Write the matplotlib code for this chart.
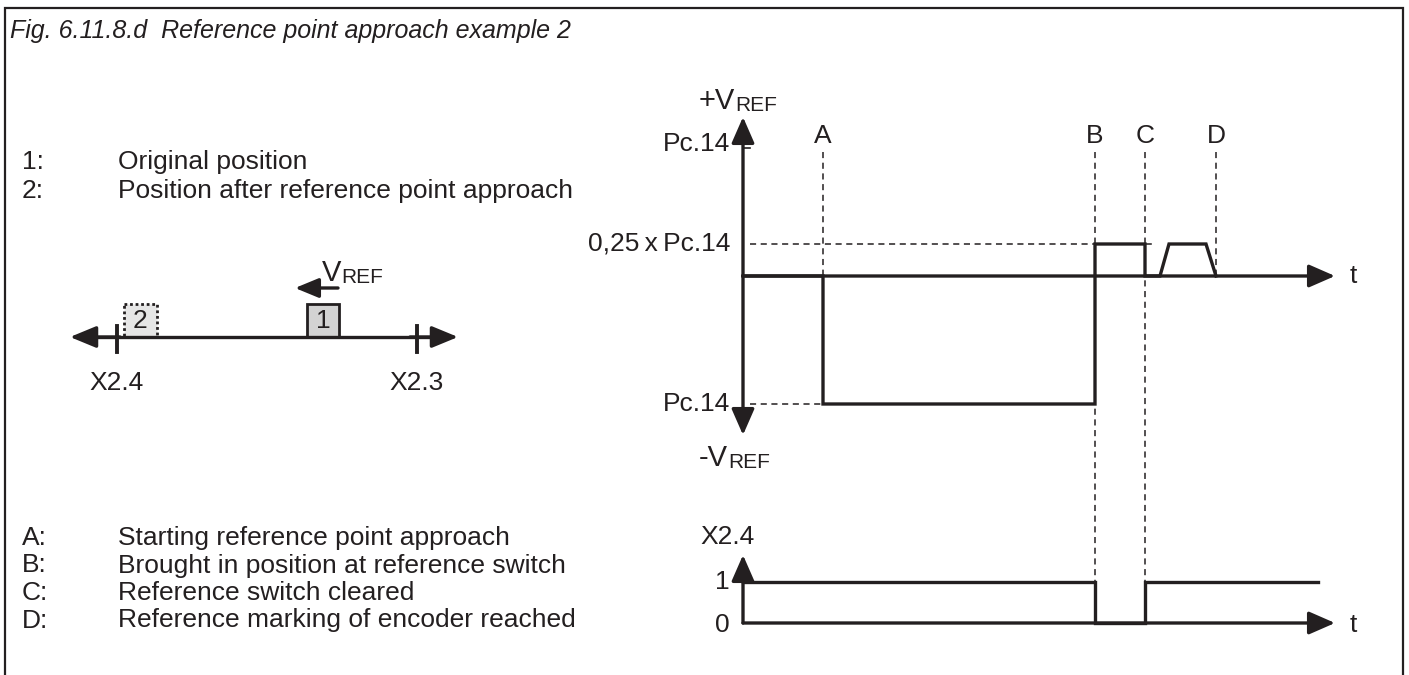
import matplotlib
matplotlib.use("Agg")
import matplotlib.pyplot as plt
from matplotlib.patches import Rectangle

INK = "#231f20"
FONT = ["Liberation Sans", "DejaVu Sans"]
plt.rcParams["font.family"] = FONT

# ---------------- data ----------------
# left legend
legend_top_keys = ["1:", "2:"]
legend_top_text = ["Original position", "Position after reference point approach"]
legend_bot_keys = ["A:", "B:", "C:", "D:"]
legend_bot_text = ["Starting reference point approach",
                   "Brought in position at reference switch",
                   "Reference switch cleared",
                   "Reference marking of encoder reached"]

# speed profile (time units, speed in units of Pc.14)
speed_t = [0.0, 8.0, 8.0, 35.2, 35.2, 40.2, 40.2, 41.7, 42.6, 46.3, 47.3]
speed_v = [0.0, 0.0, -1.0, -1.0, 0.25, 0.25, 0.0, 0.0, 0.25, 0.25, 0.0]
# reference switch input X2.4
x24_t = [0.0, 35.2, 35.2, 40.2, 40.2, 57.5]
x24_v = [1, 1, 0, 0, 1, 1]
# event markers
event_names = ["A", "B", "C", "D"]
event_t = [8.0, 35.2, 40.2, 47.3]
speed_levels = [1.0, 0.25, -1.0]
speed_labels = ["Pc.14", "0,25\u2009x\u2009Pc.14", "Pc.14"]
T_END = 59.2

fig = plt.figure(figsize=(14.09, 6.75), dpi=100)
W, H = 1409, 675

# overlay in pixel coordinates for frame / schematic / legend
ov = fig.add_axes([0, 0, 1, 1])
ov.set_xlim(0, W)
ov.set_ylim(H, 0)
ov.axis("off")

# frame
ov.plot([5, 5, 1403, 1403], [H + 5, 8, 8, H + 5], color=INK, lw=1.6,
        solid_joinstyle="miter", clip_on=False)
ov.text(10, 31, "Fig. 6.11.8.d  Reference point approach example 2",
        fontsize=18, style="italic", va="center", ha="left", color=INK,
        family=["Liberation Sans Narrow", "Liberation Sans", "DejaVu Sans"])

FS = 19
for i, (k, s) in enumerate(zip(legend_top_keys, legend_top_text)):
    y = 162 + 29 * i
    ov.text(22, y, k, fontsize=FS, va="center", ha="left", color=INK)
    ov.text(118, y, s, fontsize=FS, va="center", ha="left", color=INK)
for i, (k, s) in enumerate(zip(legend_bot_keys, legend_bot_text)):
    y = 538 + 27.5 * i
    ov.text(22, y, k, fontsize=FS, va="center", ha="left", color=INK)
    ov.text(118, y, s, fontsize=FS, va="center", ha="left", color=INK)

# ---------------- schematic (left) ----------------
line_y = 337
AP = dict(arrowstyle="-|>,head_length=0.8,head_width=0.33", mutation_scale=20,
          color=INK, lw=2.4, shrinkA=0, shrinkB=0)
ov.plot([80, 448], [line_y, line_y], color=INK, lw=2.4)
ov.annotate("", xy=(70, line_y), xytext=(120, line_y), arrowprops=AP)
ov.annotate("", xy=(458, line_y), xytext=(410, line_y), arrowprops=AP)
for xt, lab in [(117, "X2.4"), (417, "X2.3")]:
    ov.plot([xt, xt], [326, 352], color=INK, lw=2.8)
    ov.text(xt, 383, lab, fontsize=FS, ha="center", va="center", color=INK)
ov.add_patch(Rectangle((307, 304), 32, 33, facecolor="#d3d3d3",
                       edgecolor=INK, lw=2.0))
ov.text(323, 321, "1", fontsize=FS, ha="center", va="center", color=INK)
ov.add_patch(Rectangle((124, 304), 33, 33, facecolor="#e6e6e6",
                       edgecolor=INK, lw=2.0, linestyle=(0, (1, 1))))
ov.text(140, 321, "2", fontsize=FS, ha="center", va="center", color=INK)
ov.annotate("", xy=(295, 288), xytext=(338, 288),
            arrowprops=dict(arrowstyle="-|>,head_length=0.8,head_width=0.33",
                            mutation_scale=18, color=INK, lw=2.4,
                            shrinkA=0, shrinkB=0))
tv = ov.text(322, 281, "V", fontsize=21, ha="left", va="baseline", color=INK)
ov.annotate("REF", xy=(1, 0), xycoords=tv, fontsize=15, ha="left",
            va="bottom", color=INK)

# ---------------- speed chart (right top) ----------------
PX0, PXS = 743, 10.0           # x pixel of t=0, px per time unit
Y0, YS = 276, 128.0            # y pixel of v=0, px per speed unit
xr = (0, 62)
yr = (-1.6, 1.6)
axs = fig.add_axes([PX0 / W, (H - (Y0 + YS * 1.6)) / H,
                    (xr[1] - xr[0]) * PXS / W, 3.2 * YS / H])
axs.set_xlim(*xr)
axs.set_ylim(*yr)
axs.axis("off")

DASH = dict(color=INK, lw=1.1, linestyle=(0, (4, 3)), clip_on=False)
# dashed guides
axs.plot([0.7, 41.1], [0.25, 0.25], **DASH)
axs.plot([0.7, event_t[1]], [-1, -1], **DASH)
y_bot_one = (Y0 - 582) / YS
top_guide = (Y0 - 152) / YS
axs.plot([event_t[0]] * 2, [top_guide, 0], **DASH)
axs.plot([event_t[1]] * 2, [top_guide, y_bot_one], **DASH)
axs.plot([event_t[2]] * 2, [top_guide, y_bot_one], **DASH)
axs.plot([event_t[3]] * 2, [top_guide, 0], **DASH)
for n, t in zip(event_names, event_t):
    axs.text(t, (Y0 - 136) / YS, n, fontsize=FS, ha="center", va="center",
             color=INK, clip_on=False)

# axes arrows
AX_AP = dict(arrowstyle="-|>,head_length=0.8,head_width=0.35",
             mutation_scale=20, color=INK, lw=2.4, shrinkA=0, shrinkB=0)
axs.annotate("", xy=(0, (Y0 - 117) / YS), xytext=(0, 0), arrowprops=AX_AP,
             annotation_clip=False)
axs.annotate("", xy=(0, (Y0 - 435) / YS), xytext=(0, 0), arrowprops=AX_AP,
             annotation_clip=False)
axs.annotate("", xy=(T_END, 0), xytext=(0, 0), arrowprops=AX_AP,
             annotation_clip=False)
axs.text(61.0, 0, "t", fontsize=FS, ha="center", va="center", color=INK)
axs.plot([0, 0.7], [1, 1], color=INK, lw=1.2)

# level labels
for lv, lab in zip(speed_levels, speed_labels):
    axs.text(-1.3, lv + (0.03 if lv == 1 else 0), lab, fontsize=FS,
             ha="right", va="center", color=INK, clip_on=False)
tp = axs.text(-4.4, (Y0 - 101) / YS, "+V", fontsize=FS + 2, ha="left",
              va="center", color=INK, clip_on=False)
axs.annotate("REF", xy=(1, 0), xycoords=tp, fontsize=15, ha="left",
             va="bottom", color=INK)
tm = axs.text(-4.4, (Y0 - 458) / YS, "-V", fontsize=FS + 2, ha="left",
              va="center", color=INK, clip_on=False)
axs.annotate("REF", xy=(1, 0), xycoords=tm, fontsize=15, ha="left",
             va="bottom", color=INK)

# speed signal
axs.plot(speed_t, speed_v, color=INK, lw=2.4, solid_joinstyle="miter",
         clip_on=False)

# ---------------- X2.4 chart (right bottom) ----------------
B0, BS = 623, 41.0
axb = fig.add_axes([PX0 / W, (H - (B0 + BS * 1.0)) / H,
                    (xr[1] - xr[0]) * PXS / W, 3.5 * BS / H])
axb.set_xlim(*xr)
axb.set_ylim(-1.0, 2.5)
axb.axis("off")
axb.annotate("", xy=(0, (B0 - 555) / BS), xytext=(0, 0), arrowprops=AX_AP,
             annotation_clip=False)
axb.annotate("", xy=(T_END, 0), xytext=(0, 0), arrowprops=AX_AP,
             annotation_clip=False)
axb.text(61.0, -0.05, "t", fontsize=FS, ha="center", va="center", color=INK)
axb.text(-2.1, 1, "1", fontsize=FS, ha="center", va="center", color=INK,
         clip_on=False)
axb.text(-2.1, -0.05, "0", fontsize=FS, ha="center", va="center", color=INK,
         clip_on=False)
axb.text(-1.5, (B0 - 537) / BS, "X2.4", fontsize=FS, ha="center",
         va="center", color=INK, clip_on=False)
axb.plot(x24_t, x24_v, color=INK, lw=2.4, solid_joinstyle="miter",
         clip_on=False)

fig.savefig("out.png", dpi=100)
